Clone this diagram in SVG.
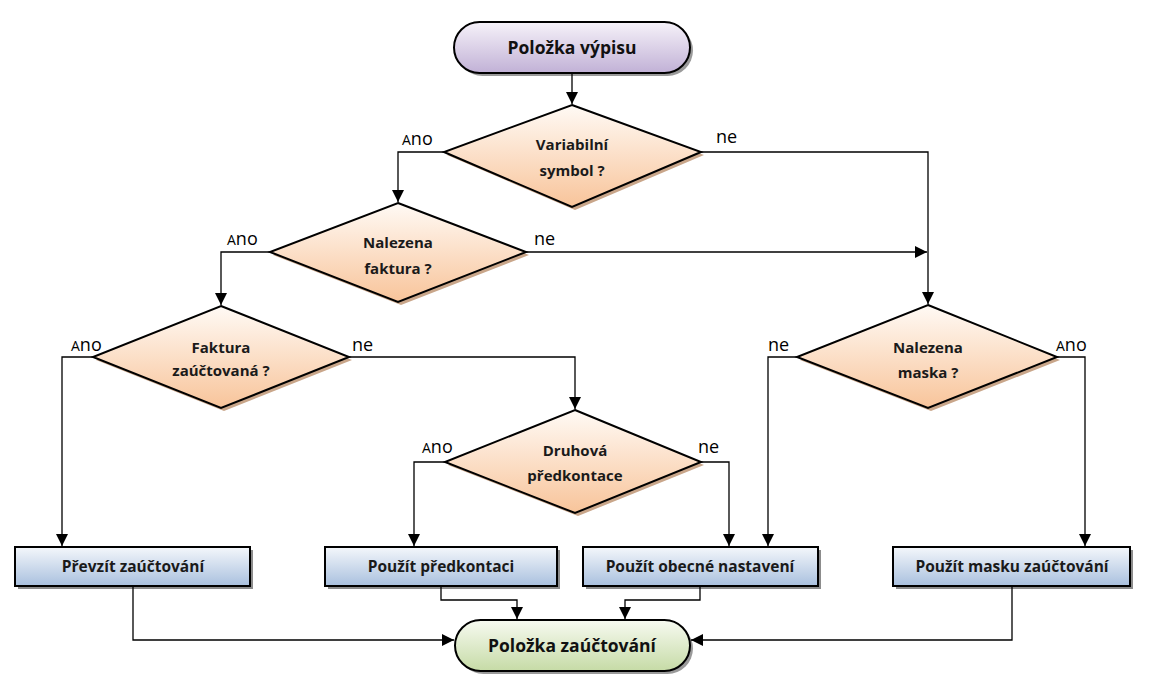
<svg xmlns="http://www.w3.org/2000/svg" width="1149" height="689" viewBox="0 0 1149 689">
<defs>
<linearGradient id="gD" x1="0" y1="0" x2="0" y2="1"><stop offset="0" stop-color="#fffaf5"/><stop offset="1" stop-color="#f8c49a"/></linearGradient>
<linearGradient id="gB" x1="0" y1="0" x2="0" y2="1"><stop offset="0" stop-color="#f4f7fb"/><stop offset="1" stop-color="#a9c0de"/></linearGradient>
<linearGradient id="gS" x1="0" y1="0" x2="0" y2="1"><stop offset="0" stop-color="#f6f2f9"/><stop offset="1" stop-color="#c1b1d6"/></linearGradient>
<linearGradient id="gE" x1="0" y1="0" x2="0" y2="1"><stop offset="0" stop-color="#f7faf1"/><stop offset="1" stop-color="#c6dba6"/></linearGradient>
<marker id="ar" viewBox="0 0 10 10" refX="10" refY="5" markerWidth="12" markerHeight="12" markerUnits="userSpaceOnUse" orient="auto"><path d="M0,0 L10,5 L0,10 z" fill="#000"/></marker>
</defs>
<style>
.d{fill:url(#gD);stroke:#000;stroke-width:2}
.ds{fill:#c9a68a}
.b{fill:url(#gB);stroke:#000;stroke-width:2}
.bs{fill:#8c8c8c}
.t{font-family:"Open Sans","Liberation Sans",sans-serif;font-weight:bold;font-size:15px;fill:#1a1a1a;text-anchor:middle}
.tb{font-family:"Open Sans","Liberation Sans",sans-serif;font-weight:bold;font-size:15.5px;fill:#1a1a1a;text-anchor:middle}
.tt{font-family:"Open Sans","Liberation Sans",sans-serif;font-weight:bold;font-size:17.5px;fill:#111;text-anchor:middle}
.l{font-family:"Open Sans","Liberation Sans",sans-serif;font-size:18px;fill:#000}
.c{fill:none;stroke:#000;stroke-width:1.3}
</style>
<rect width="1149" height="689" fill="#fff"/>

<g id="start">
<rect x="457" y="25" width="236" height="51" rx="25.5" fill="#9a9a9a"/>
<rect x="454" y="22" width="236" height="51" rx="25.5" fill="url(#gS)" stroke="#000" stroke-width="2"/>
<text class="tt" x="572" y="54">Položka výpisu</text>
</g>

<g id="d1">
<polygon class="ds" points="575,108 704,155 575,210 447,155"/>
<polygon class="d" points="572,105 701,152 572,207 444,152"/>
<text class="t" x="572" y="150">Variabilní</text>
<text class="t" x="572" y="176">symbol ?</text>
</g>

<g id="d2">
<polygon class="ds" points="401,206 529,255 401,305 273,255"/>
<polygon class="d" points="398,203 526,252 398,302 270,252"/>
<text class="t" x="398" y="248">Nalezena</text>
<text class="t" x="398" y="274">faktura ?</text>
</g>

<g id="d3">
<polygon class="ds" points="224,309 352,360 224,411 96,360"/>
<polygon class="d" points="221,306 349,357 221,408 93,357"/>
<text class="t" x="221" y="353">Faktura</text>
<text class="t" x="221" y="376">zaúčtovaná ?</text>
</g>

<g id="d4">
<polygon class="ds" points="578,413 704,465 578,516 448,465"/>
<polygon class="d" points="575,410 701,462 575,513 445,462"/>
<text class="t" x="575" y="456">Druhová</text>
<text class="t" x="575" y="481">předkontace</text>
</g>

<g id="d5">
<polygon class="ds" points="931,308 1060,360 931,411 800,360"/>
<polygon class="d" points="928,305 1057,357 928,408 797,357"/>
<text class="t" x="928" y="353">Nalezena</text>
<text class="t" x="928" y="378">maska ?</text>
</g>

<g id="b1">
<rect class="bs" x="18" y="550" width="235" height="39"/>
<rect class="b" x="15" y="547" width="235" height="39"/>
<text class="tb" x="133" y="572">Převzít zaúčtování</text>
</g>
<g id="b2">
<rect class="bs" x="328" y="550" width="232" height="39"/>
<rect class="b" x="325" y="547" width="232" height="39"/>
<text class="tb" x="441" y="572">Použít předkontaci</text>
</g>
<g id="b3">
<rect class="bs" x="586" y="550" width="235" height="39"/>
<rect class="b" x="583" y="547" width="235" height="39"/>
<text class="tb" x="700" y="572">Použít obecné nastavení</text>
</g>
<g id="b4">
<rect class="bs" x="896" y="550" width="237" height="39"/>
<rect class="b" x="893" y="547" width="237" height="39"/>
<text class="tb" x="1012" y="572">Použít masku zaúčtování</text>
</g>

<g id="end">
<rect x="458" y="623" width="235" height="51" rx="25.5" fill="#9a9a9a"/>
<rect x="455" y="620" width="235" height="51" rx="25.5" fill="url(#gE)" stroke="#000" stroke-width="2"/>
<text class="tt" x="572" y="652">Položka zaúčtování</text>
</g>

<g id="connectors">
<path class="c" d="M572,73 V104" marker-end="url(#ar)"/>
<path class="c" d="M444,152 H398 V202" marker-end="url(#ar)"/>
<path class="c" d="M701,152 H928 V304" marker-end="url(#ar)"/>
<path class="c" d="M526,252 H927" marker-end="url(#ar)"/>
<path class="c" d="M270,252 H221 V305" marker-end="url(#ar)"/>
<path class="c" d="M93,357 H62 V546" marker-end="url(#ar)"/>
<path class="c" d="M349,357 H575 V409" marker-end="url(#ar)"/>
<path class="c" d="M445,462 H414 V546" marker-end="url(#ar)"/>
<path class="c" d="M701,462 H729 V546" marker-end="url(#ar)"/>
<path class="c" d="M797,357 H768 V546" marker-end="url(#ar)"/>
<path class="c" d="M1057,357 H1085 V546" marker-end="url(#ar)"/>
<path class="c" d="M133,586 V640 H454" marker-end="url(#ar)"/>
<path class="c" d="M441,586 V600 H517 V619" marker-end="url(#ar)"/>
<path class="c" d="M700,586 V600 H625 V619" marker-end="url(#ar)"/>
<path class="c" d="M1012,586 V640 H691" marker-end="url(#ar)"/>
<text class="l" x="402" y="145"><tspan font-size="14">A</tspan>no</text>
<text class="l" x="716" y="143">ne</text>
<text class="l" x="227" y="245"><tspan font-size="14">A</tspan>no</text>
<text class="l" x="534" y="245">ne</text>
<text class="l" x="71" y="351"><tspan font-size="14">A</tspan>no</text>
<text class="l" x="352" y="351">ne</text>
<text class="l" x="422" y="453"><tspan font-size="14">A</tspan>no</text>
<text class="l" x="698" y="453">ne</text>
<text class="l" x="768" y="351">ne</text>
<text class="l" x="1056" y="351"><tspan font-size="14">A</tspan>no</text>
</g>
</svg>
